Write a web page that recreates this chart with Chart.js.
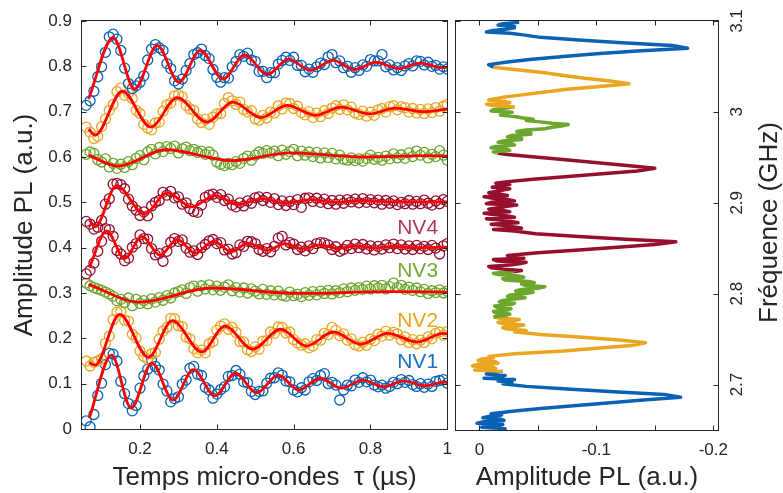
<!DOCTYPE html>
<html>
<head>
<meta charset="utf-8">
<script src="https://cdn.jsdelivr.net/npm/chart.js@4.4.1/dist/chart.umd.min.js"></script>
<style>
  body { margin: 0; background: #fff; }
  #wrap { position: relative; width: 783px; height: 493px; }
  canvas { position: absolute; top: 0; }
</style>
</head>
<body>
<div id="wrap">
  <canvas id="rabi" width="462" height="493" style="left:0;width:462px;height:493px"></canvas>
  <canvas id="odmr" width="343" height="493" style="left:440px;width:343px;height:493px"></canvas>
</div>
<script>
// temps micro-ondes (µs) des points mesurés
const tau = [0.06,0.07,0.08,0.09,0.10,0.11,0.12,0.13,0.14,0.15,
  0.16,0.17,0.18,0.19,0.20,0.21,0.22,0.23,0.24,0.25,
  0.26,0.27,0.28,0.29,0.30,0.31,0.32,0.33,0.34,0.35,
  0.36,0.37,0.38,0.39,0.40,0.41,0.42,0.43,0.44,0.45,
  0.46,0.47,0.48,0.49,0.50,0.51,0.52,0.53,0.54,0.55,
  0.56,0.57,0.58,0.59,0.60,0.61,0.62,0.63,0.64,0.65,
  0.66,0.67,0.68,0.69,0.70,0.71,0.72,0.73,0.74,0.75,
  0.76,0.77,0.78,0.79,0.80,0.81,0.82,0.83,0.84,0.85,
  0.86,0.87,0.88,0.89,0.90,0.91,0.92,0.93,0.94,0.95,
  0.96,0.97,0.98,0.99,1.00];

// amplitudes PL mesurées (décalées)
const nv1Upper = [0.714,0.724,0.745,0.777,0.799,0.831,0.865,0.871,0.860,0.835,
  0.796,0.762,0.751,0.757,0.765,0.779,0.814,0.838,0.848,0.841,
  0.835,0.806,0.795,0.768,0.761,0.772,0.791,0.806,0.826,0.830,
  0.838,0.824,0.817,0.793,0.776,0.765,0.775,0.774,0.799,0.811,
  0.826,0.822,0.829,0.814,0.811,0.789,0.789,0.775,0.786,0.786,
  0.805,0.813,0.820,0.813,0.820,0.802,0.802,0.788,0.794,0.787,
  0.799,0.807,0.804,0.821,0.826,0.808,0.812,0.797,0.800,0.787,
  0.797,0.791,0.803,0.800,0.815,0.812,0.812,0.826,0.799,0.803,
  0.792,0.797,0.791,0.801,0.806,0.801,0.812,0.811,0.803,0.809,
  0.800,0.802,0.794,0.799,0.794];
const nv2Upper = [0.666,0.655,0.641,0.646,0.667,0.684,0.703,0.716,0.744,0.752,
  0.736,0.741,0.729,0.703,0.696,0.672,0.664,0.660,0.675,0.677,
  0.701,0.715,0.719,0.735,0.737,0.733,0.714,0.706,0.703,0.684,
  0.676,0.683,0.672,0.688,0.695,0.696,0.718,0.731,0.724,0.716,
  0.721,0.705,0.699,0.702,0.684,0.681,0.692,0.686,0.699,0.697,
  0.713,0.706,0.719,0.718,0.707,0.712,0.698,0.693,0.700,0.687,
  0.697,0.689,0.702,0.696,0.708,0.713,0.705,0.715,0.704,0.710,
  0.697,0.694,0.701,0.690,0.699,0.692,0.704,0.707,0.699,0.711,
  0.713,0.704,0.711,0.709,0.699,0.707,0.697,0.705,0.696,0.706,
  0.698,0.709,0.701,0.712,0.716];
const nv3Upper = [0.606,0.611,0.608,0.594,0.589,0.596,0.578,0.586,0.575,0.584,
  0.577,0.590,0.583,0.597,0.603,0.594,0.611,0.617,0.607,0.621,
  0.612,0.623,0.619,0.624,0.609,0.618,0.622,0.614,0.617,0.610,
  0.613,0.606,0.611,0.604,0.589,0.584,0.581,0.586,0.583,0.590,
  0.586,0.597,0.602,0.593,0.604,0.611,0.608,0.614,0.609,0.613,
  0.603,0.615,0.606,0.612,0.617,0.603,0.613,0.604,0.611,0.601,
  0.610,0.598,0.609,0.599,0.608,0.596,0.604,0.595,0.593,0.598,
  0.592,0.596,0.591,0.597,0.604,0.595,0.599,0.593,0.602,0.596,
  0.607,0.598,0.605,0.597,0.609,0.601,0.613,0.604,0.610,0.598,
  0.606,0.601,0.614,0.604,0.593];
const nv4Upper = [0.458,0.452,0.441,0.445,0.460,0.496,0.508,0.540,0.542,0.539,
  0.530,0.507,0.492,0.483,0.471,0.479,0.470,0.492,0.500,0.504,
  0.522,0.516,0.524,0.510,0.512,0.496,0.499,0.486,0.480,0.478,
  0.494,0.511,0.516,0.518,0.511,0.517,0.504,0.507,0.494,0.490,
  0.499,0.492,0.503,0.498,0.510,0.512,0.504,0.511,0.500,0.508,
  0.495,0.503,0.493,0.502,0.495,0.506,0.489,0.509,0.510,0.502,
  0.509,0.500,0.507,0.497,0.504,0.496,0.505,0.498,0.506,0.501,
  0.507,0.499,0.508,0.500,0.506,0.499,0.505,0.496,0.504,0.498,
  0.503,0.495,0.500,0.497,0.504,0.496,0.502,0.497,0.505,0.498,
  0.494,0.503,0.497,0.506,0.502];
const nv4Lower = [0.342,0.350,0.366,0.392,0.414,0.442,0.440,0.425,0.394,0.386,
  0.371,0.377,0.401,0.409,0.428,0.420,0.419,0.398,0.384,0.387,
  0.370,0.392,0.412,0.420,0.414,0.417,0.399,0.390,0.393,0.385,
  0.400,0.407,0.415,0.418,0.409,0.411,0.395,0.397,0.386,0.389,
  0.406,0.403,0.414,0.413,0.409,0.396,0.392,0.398,0.391,0.403,
  0.421,0.425,0.406,0.411,0.408,0.396,0.401,0.393,0.404,0.398,
  0.409,0.411,0.410,0.406,0.396,0.402,0.392,0.396,0.405,0.398,
  0.408,0.400,0.407,0.397,0.404,0.395,0.403,0.397,0.406,0.400,
  0.408,0.398,0.406,0.397,0.404,0.396,0.405,0.398,0.403,0.396,
  0.405,0.399,0.386,0.404,0.409];
const nv3Lower = [0.322,0.316,0.312,0.309,0.306,0.302,0.298,0.293,0.283,0.286,
  0.279,0.289,0.272,0.286,0.277,0.283,0.276,0.287,0.280,0.290,
  0.284,0.294,0.289,0.300,0.303,0.307,0.299,0.312,0.315,0.304,
  0.316,0.309,0.318,0.307,0.315,0.306,0.313,0.318,0.305,0.312,
  0.302,0.311,0.300,0.309,0.304,0.298,0.308,0.297,0.305,0.296,
  0.304,0.295,0.293,0.302,0.294,0.297,0.292,0.301,0.295,0.303,
  0.296,0.304,0.299,0.306,0.298,0.305,0.301,0.309,0.303,0.311,
  0.306,0.312,0.308,0.315,0.309,0.316,0.311,0.317,0.309,0.314,
  0.322,0.312,0.317,0.308,0.313,0.306,0.311,0.303,0.308,0.299,
  0.305,0.301,0.307,0.300,0.304];
const nv2Lower = [0.150,0.139,0.147,0.150,0.155,0.189,0.205,0.241,0.258,0.259,
  0.240,0.238,0.209,0.201,0.172,0.160,0.154,0.166,0.169,0.198,
  0.216,0.224,0.244,0.243,0.228,0.226,0.203,0.199,0.177,0.168,
  0.174,0.168,0.188,0.193,0.218,0.227,0.232,0.220,0.224,0.213,
  0.193,0.192,0.175,0.171,0.181,0.176,0.194,0.195,0.214,0.211,
  0.225,0.224,0.212,0.214,0.197,0.190,0.185,0.188,0.179,0.183,
  0.197,0.196,0.211,0.208,0.224,0.218,0.206,0.210,0.196,0.199,
  0.186,0.183,0.191,0.185,0.198,0.195,0.209,0.205,0.216,0.207,
  0.213,0.210,0.197,0.203,0.191,0.197,0.188,0.196,0.191,0.203,
  0.199,0.211,0.214,0.207,0.215];
const nv1Lower = [0.018,0.005,0.032,0.074,0.101,0.142,0.167,0.165,0.150,0.105,
  0.078,0.056,0.040,0.052,0.090,0.117,0.132,0.152,0.138,0.130,
  0.099,0.084,0.060,0.067,0.071,0.099,0.108,0.134,0.138,0.121,
  0.118,0.092,0.086,0.068,0.077,0.087,0.093,0.116,0.118,0.129,
  0.121,0.104,0.102,0.083,0.076,0.083,0.084,0.101,0.112,0.113,
  0.124,0.119,0.106,0.104,0.086,0.082,0.091,0.086,0.104,0.111,
  0.107,0.118,0.122,0.100,0.103,0.097,0.064,0.086,0.097,0.095,
  0.108,0.103,0.113,0.104,0.108,0.097,0.093,0.097,0.090,0.094,
  0.103,0.100,0.109,0.103,0.107,0.098,0.094,0.100,0.092,0.099,
  0.094,0.105,0.107,0.109,0.101];

// ajustements (extrema)
const nv1UpperFitT = [0.066,0.130,0.186,0.245,0.301,0.357,0.416,0.472,0.532,0.587,0.643,0.703,0.758,0.814,0.874,0.929,0.985,1.0];
const nv1UpperFitY = [0.728,0.863,0.750,0.846,0.765,0.835,0.772,0.825,0.782,0.816,0.791,0.813,0.793,0.809,0.795,0.807,0.797,0.798];
const nv2UpperFitT = [0.066,0.083,0.154,0.228,0.297,0.374,0.442,0.515,0.583,0.656,0.724,0.797,0.865,0.938,1.0];
const nv2UpperFitY = [0.662,0.648,0.745,0.666,0.731,0.677,0.721,0.687,0.714,0.692,0.710,0.695,0.708,0.700,0.706];
const nv3UpperFitT = [0.066,0.143,0.267,0.438,0.592,0.780,0.950,1.0];
const nv3UpperFitY = [0.604,0.580,0.616,0.592,0.609,0.600,0.603,0.602];
const nv4UpperFitT = [0.068,0.083,0.139,0.211,0.271,0.335,0.395,0.455,0.519,0.579,0.643,0.710,0.780,0.850,1.0];
const nv4UpperFitY = [0.462,0.446,0.537,0.474,0.521,0.490,0.515,0.495,0.508,0.498,0.506,0.500,0.504,0.501,0.501];
const nv4LowerFitT = [0.068,0.113,0.160,0.205,0.252,0.297,0.344,0.391,0.438,0.481,0.532,0.577,0.624,0.669,0.716,0.762,0.810,0.860,0.910,1.0];
const nv4LowerFitY = [0.356,0.437,0.376,0.425,0.383,0.418,0.388,0.414,0.391,0.410,0.394,0.409,0.397,0.406,0.398,0.404,0.399,0.403,0.400,0.401];
const nv3LowerFitT = [0.066,0.198,0.386,0.609,0.850,1.0];
const nv3LowerFitY = [0.319,0.280,0.311,0.299,0.303,0.302];
const nv2LowerFitT = [0.068,0.083,0.147,0.222,0.284,0.361,0.421,0.493,0.566,0.634,0.703,0.775,0.844,0.921,0.990,1.0];
const nv2LowerFitY = [0.146,0.141,0.253,0.158,0.239,0.170,0.227,0.176,0.220,0.183,0.214,0.187,0.211,0.192,0.211,0.210];
const nv1LowerFitT = [0.068,0.126,0.177,0.231,0.286,0.339,0.395,0.448,0.504,0.560,0.613,0.669,0.724,0.780,0.835,0.886,0.942,0.995,1.0];
const nv1LowerFitY = [0.024,0.163,0.046,0.146,0.064,0.131,0.073,0.123,0.080,0.119,0.086,0.112,0.090,0.108,0.093,0.106,0.095,0.104,0.104];

// spectre ODMR
const freqGHz = [2.6500,2.6515,2.6530,2.6545,2.6560,2.6575,2.6590,2.6605,2.6620,2.6635,
  2.6650,2.6665,2.6680,2.671,2.674,2.677,2.680,2.683,2.686,2.689,
  2.692,2.695,2.698,2.701,2.7025,2.7040,2.7055,2.7070,2.7085,2.7100,
  2.7115,2.7130,2.7145,2.7160,2.7175,2.7190,2.7205,2.7220,2.7235,2.7250,
  2.7265,2.7280,2.7295,2.7310,2.734,2.737,2.740,2.743,2.746,2.749,
  2.752,2.755,2.758,2.7595,2.7610,2.7625,2.7640,2.7655,2.7670,2.7685,
  2.7700,2.7715,2.7730,2.7745,2.7760,2.7775,2.7790,2.7805,2.7820,2.7835,
  2.7850,2.7865,2.7880,2.7895,2.7910,2.7925,2.7940,2.7955,2.7970,2.7985,
  2.8000,2.8015,2.8030,2.8045,2.8060,2.8075,2.8090,2.8105,2.8120,2.8135,
  2.8150,2.8165,2.8180,2.8195,2.8210,2.8225,2.8240,2.8255,2.8270,2.8285,
  2.8300,2.8315,2.8330,2.8345,2.8360,2.8375,2.8390,2.8405,2.8420,2.845,
  2.848,2.851,2.854,2.857,2.860,2.863,2.866,2.869,2.8705,2.8720,
  2.8735,2.8750,2.8765,2.8780,2.8795,2.8810,2.8825,2.8840,2.8855,2.8870,
  2.8885,2.8900,2.8915,2.8930,2.8945,2.8960,2.8975,2.8990,2.9005,2.9020,
  2.9035,2.9050,2.9065,2.9080,2.9095,2.9110,2.9125,2.9140,2.9155,2.9170,
  2.9185,2.9200,2.9215,2.9230,2.926,2.929,2.932,2.935,2.938,2.941,
  2.944,2.947,2.950,2.953,2.9545,2.9560,2.9575,2.9590,2.9605,2.9620,
  2.9635,2.9650,2.9665,2.9680,2.9695,2.9710,2.9725,2.9740,2.9755,2.9770,
  2.9785,2.9800,2.9815,2.9830,2.9845,2.9860,2.9875,2.9890,2.9905,2.9920,
  2.9935,2.9950,2.9965,2.9980,2.9995,3.0010,3.0025,3.0040,3.0055,3.0070,
  3.0085,3.0100,3.0115,3.0130,3.0145,3.0160,3.019,3.022,3.025,3.028,
  3.031,3.034,3.037,3.040,3.043,3.046,3.049,3.052,3.055,3.058,
  3.061,3.064,3.067,3.070,3.073,3.076,3.079,3.082,3.085,3.0865,
  3.0880,3.0895,3.0910,3.0925,3.0940,3.0955,3.0970,3.0985];
const ampPL = [-0.010,-0.022,-0.002,-0.016,-0.020,0.002,-0.004,-0.021,-0.018,-0.003,
  -0.008,-0.019,-0.010,-0.030,-0.055,-0.083,-0.112,-0.140,-0.172,-0.158,
  -0.115,-0.075,-0.040,-0.020,-0.028,-0.016,-0.030,-0.004,-0.019,-0.022,
  -0.006,-0.008,-0.020,0.004,-0.014,-0.012,0.006,0.002,-0.016,-0.014,
  0.001,-0.002,-0.012,-0.008,-0.030,-0.072,-0.100,-0.130,-0.142,-0.120,
  -0.088,-0.052,-0.030,-0.040,-0.024,-0.020,-0.032,-0.038,-0.020,-0.016,
  -0.030,-0.034,-0.018,-0.012,-0.022,-0.026,-0.014,-0.012,-0.024,-0.027,
  -0.015,-0.013,-0.027,-0.030,-0.017,-0.020,-0.030,-0.039,-0.024,-0.026,
  -0.038,-0.046,-0.031,-0.036,-0.050,-0.056,-0.040,-0.036,-0.047,-0.042,
  -0.022,-0.020,-0.038,-0.033,-0.016,-0.012,-0.029,-0.036,-0.020,-0.010,
  -0.008,-0.026,-0.034,-0.040,-0.015,-0.012,-0.038,-0.030,-0.024,-0.050,
  -0.085,-0.118,-0.150,-0.168,-0.125,-0.085,-0.048,-0.030,-0.012,-0.036,
  -0.030,-0.022,-0.010,-0.033,-0.027,-0.018,-0.006,-0.030,-0.024,-0.012,
  -0.004,-0.026,-0.021,-0.008,-0.016,-0.022,-0.032,-0.006,-0.010,-0.030,
  -0.025,-0.012,-0.004,-0.024,-0.018,-0.008,-0.014,-0.020,-0.026,-0.011,
  -0.018,-0.026,-0.014,-0.022,-0.046,-0.076,-0.105,-0.135,-0.150,-0.126,
  -0.101,-0.076,-0.050,-0.024,-0.016,-0.012,-0.026,-0.024,-0.010,-0.014,
  -0.030,-0.028,-0.016,-0.020,-0.036,-0.036,-0.024,-0.028,-0.044,-0.044,
  -0.032,-0.040,-0.056,-0.062,-0.070,-0.076,-0.062,-0.052,-0.040,-0.046,
  -0.036,-0.030,-0.018,-0.020,-0.028,-0.010,-0.012,-0.022,-0.030,-0.012,
  -0.006,-0.026,-0.022,-0.008,-0.014,-0.020,-0.038,-0.056,-0.075,-0.103,
  -0.128,-0.112,-0.090,-0.072,-0.056,-0.034,-0.012,-0.008,-0.024,-0.045,
  -0.072,-0.100,-0.135,-0.178,-0.165,-0.122,-0.085,-0.052,-0.036,-0.026,
  -0.006,-0.012,-0.022,-0.030,-0.030,-0.016,-0.020,-0.034];
// limites des zones de couleur (GHz)
const bandEdges = [2.714, 2.774, 2.824, 2.954, 3.005, 3.049];

const tauTicks = [0.2, 0.4, 0.6, 0.8, 1];
const tauTickLabels = ['0.2', '0.4', '0.6', '0.8', '1'];
const plTicks = [0, 0.1, 0.2, 0.3, 0.4, 0.5, 0.6, 0.7, 0.8, 0.9];
const plTickLabels = ['0', '0.1', '0.2', '0.3', '0.4', '0.5', '0.6', '0.7', '0.8', '0.9'];
const ampTicks = [0, -0.05, -0.1, -0.15, -0.2];
const ampTickLabels = ['0', '', '-0.1', '', '-0.2'];
const ghzTicks = [2.7, 2.8, 2.9, 3, 3.1];
const ghzTickLabels = ['2.7', '2.8', '2.9', '3', '3.1'];

const nvLabels = ['NV4', 'NV3', 'NV2', 'NV1'];
const nvLabelY = [0.443, 0.348, 0.238, 0.148];

const BLUE = '#0a62b4';
const ORANGE = '#eaa620';
const GREEN = '#6ca62c';
const DARKRED = '#960f2d';
const TXT = '#262626';
const nvColors = ['#b03a55', '#72aa32', '#eaa620', '#1a70c0'];
const bandColors = [BLUE, ORANGE, GREEN, DARKRED, GREEN, ORANGE, BLUE];

Chart.defaults.font.family = '"Liberation Sans", Arial, Helvetica, sans-serif';
Chart.defaults.color = TXT;

const bandColor = (f) => {
    let i = 0;
    while (i < bandEdges.length && f >= bandEdges[i]) i++;
    return bandColors[i];
}

const pts = (xs, ys) => xs.map((x, i) => ({ x: x, y: ys[i] }));

const circles = (ys, color) => ({
    data: pts(tau, ys),
    showLine: false,
    pointStyle: 'circle',
    pointRadius: 5,
    pointBorderWidth: 1.3,
    pointBackgroundColor: 'rgba(0,0,0,0)',
    pointBorderColor: color,
    order: 1
})

const fit = (ts, ys) => ({
    data: pts(ts, ys),
    showLine: true,
    pointRadius: 0,
    borderColor: '#ff0000',
    borderWidth: 2.8,
    cubicInterpolationMode: 'monotone',
    order: 0
})

// cadre style MATLAB, graduations vers l'intérieur
const boxTicks = {
    id: 'boxTicks',
    afterDatasetsDraw(chart) {
        const { ctx, chartArea: a, scales } = chart;
        const L = Math.round(a.left) - 0.5, R = Math.round(a.right) + 0.5;
        const T = Math.round(a.top) - 0.5, B = Math.round(a.bottom) + 0.5;
        ctx.save();
        ctx.strokeStyle = TXT;
        ctx.lineWidth = 1;
        ctx.strokeRect(L, T, R - L, B - T);
        ctx.beginPath();
        scales.x.ticks.forEach(t => {
            const px = Math.round(scales.x.getPixelForValue(t.value)) + 0.5;
            ctx.moveTo(px, B); ctx.lineTo(px, B - 5);
            ctx.moveTo(px, T); ctx.lineTo(px, T + 5);
        });
        scales.y.ticks.forEach(t => {
            const py = Math.round(scales.y.getPixelForValue(t.value)) + 0.5;
            ctx.moveTo(L, py); ctx.lineTo(L + 5, py);
            ctx.moveTo(R, py); ctx.lineTo(R - 5, py);
        });
        ctx.stroke();
        ctx.restore();
    }
}

const nvTags = {
    id: 'nvTags',
    afterDatasetsDraw(chart) {
        const { ctx, scales } = chart;
        ctx.save();
        ctx.font = '21px "Liberation Sans", Arial, sans-serif';
        ctx.textAlign = 'right';
        ctx.textBaseline = 'middle';
        nvLabels.forEach((lab, i) => {
            ctx.fillStyle = nvColors[i];
            ctx.fillText(lab, scales.x.getPixelForValue(0.976), scales.y.getPixelForValue(nvLabelY[i]));
        });
        ctx.restore();
    }
}

// axe des fréquences à droite, libellés tournés
const ghzAxis = {
    id: 'ghzAxis',
    afterDraw(chart) {
        const { ctx, chartArea: a, scales } = chart;
        ctx.save();
        ctx.fillStyle = TXT;
        ctx.textAlign = 'center';
        ctx.textBaseline = 'middle';
        ctx.font = '17px "Liberation Sans", Arial, sans-serif';
        ghzTicks.forEach((v, i) => {
            ctx.save();
            ctx.translate(a.right + 19, scales.y.getPixelForValue(v));
            ctx.rotate(-Math.PI / 2);
            ctx.fillText(ghzTickLabels[i], 0, 0);
            ctx.restore();
        });
        ctx.font = '26px "Liberation Sans", Arial, sans-serif';
        ctx.translate(a.right + 52, (a.top + a.bottom) / 2 - 3);
        ctx.rotate(-Math.PI / 2);
        ctx.fillText('Fréquence (GHz)', 0, 0);
        ctx.restore();
    }
}

const noGrid = { display: false, drawTicks: false };

const rabiChart = new Chart(document.getElementById('rabi'), {
    type: 'scatter',
    data: {
        datasets: [
            circles(nv1Upper, BLUE), circles(nv2Upper, ORANGE), circles(nv3Upper, GREEN), circles(nv4Upper, DARKRED),
            circles(nv4Lower, DARKRED), circles(nv3Lower, GREEN), circles(nv2Lower, ORANGE), circles(nv1Lower, BLUE),
            fit(nv1UpperFitT, nv1UpperFitY), fit(nv2UpperFitT, nv2UpperFitY), fit(nv3UpperFitT, nv3UpperFitY), fit(nv4UpperFitT, nv4UpperFitY),
            fit(nv4LowerFitT, nv4LowerFitY), fit(nv3LowerFitT, nv3LowerFitY), fit(nv2LowerFitT, nv2LowerFitY), fit(nv1LowerFitT, nv1LowerFitY)
        ]
    },
    options: {
        responsive: false,
        animation: false,
        devicePixelRatio: 1,
        layout: { padding: { top: 21, right: 10, left: 0, bottom: 0 } },
        plugins: { legend: { display: false }, tooltip: { enabled: false } },
        scales: {
            x: {
                type: 'linear', min: 0.049, max: 1.0,
                grid: noGrid, border: { display: false },
                afterBuildTicks: s => { s.ticks = tauTicks.map(v => ({ value: v })); },
                afterFit: s => { s.height = 64; },
                ticks: { autoSkip: false, maxRotation: 0, padding: 10, font: { size: 17 }, callback: (v, i) => tauTickLabels[i] },
                title: { display: true, text: 'Temps micro-ondes  τ (µs)', font: { size: 26 }, padding: { top: 0, bottom: 0 } }
            },
            y: {
                type: 'linear', min: 0, max: 0.9,
                grid: noGrid, border: { display: false },
                afterBuildTicks: s => { s.ticks = plTicks.map(v => ({ value: v })); },
                afterFit: s => { s.width = 82; },
                ticks: { autoSkip: false, padding: 10, font: { size: 17 }, callback: (v, i) => plTickLabels[i] },
                title: { display: true, text: 'Amplitude PL (a.u.)', font: { size: 26 }, padding: { top: 9, bottom: 0 } }
            }
        }
    },
    plugins: [boxTicks, nvTags]
});

const odmrChart = new Chart(document.getElementById('odmr'), {
    type: 'scatter',
    data: {
        datasets: [{
            data: pts(ampPL, freqGHz),
            showLine: true,
            pointRadius: 0,
            borderWidth: 3.5,
            borderJoinStyle: 'round',
            borderColor: BLUE,
            segment: { borderColor: c => bandColor(c.p0.parsed.y) }
        }]
    },
    options: {
        responsive: false,
        animation: false,
        devicePixelRatio: 1,
        layout: { padding: { top: 21, right: 0, left: 16, bottom: 0 } },
        plugins: { legend: { display: false }, tooltip: { enabled: false } },
        scales: {
            x: {
                type: 'linear', min: -0.204, max: 0.02, reverse: true,
                grid: noGrid, border: { display: false },
                afterBuildTicks: s => { s.ticks = ampTicks.map(v => ({ value: v })); },
                afterFit: s => { s.height = 63; },
                ticks: { autoSkip: false, maxRotation: 0, padding: 10, font: { size: 17 }, callback: (v, i) => ampTickLabels[i] },
                title: { display: true, text: 'Amplitude PL (a.u.)', font: { size: 26 }, padding: { top: 0, bottom: 0 } }
            },
            y: {
                type: 'linear', position: 'right', min: 2.65, max: 3.1,
                grid: noGrid, border: { display: false },
                afterBuildTicks: s => { s.ticks = ghzTicks.map(v => ({ value: v })); },
                afterFit: s => { s.width = 65; },
                ticks: { display: false }
            }
        }
    },
    plugins: [boxTicks, ghzAxis]
});
</script>
</body>
</html>
